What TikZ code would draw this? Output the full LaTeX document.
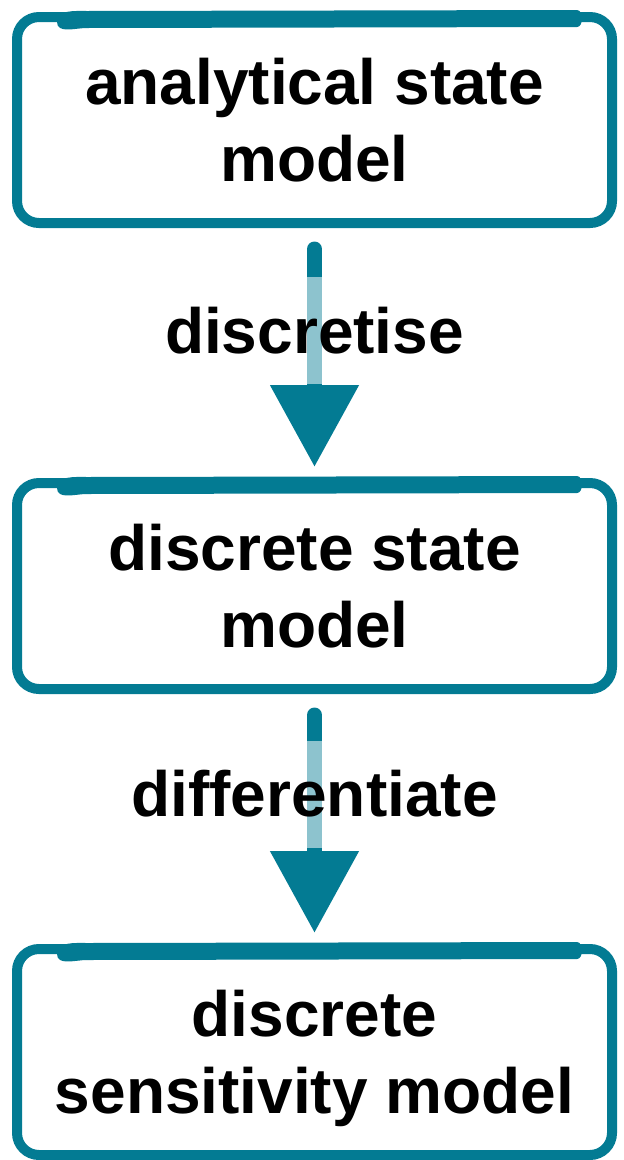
\documentclass[tikz,border=0pt]{standalone}
\usepackage{fontspec}
\setmainfont{Liberation Sans}
\usetikzlibrary{positioning,arrows.meta}
\definecolor{brushteal}{HTML}{037B93}
\begin{document}
\begin{tikzpicture}[x=1pt, y=-1pt,
    modelbox/.style={draw=brushteal, line width=10pt, rounded corners=22pt,
      minimum width=595pt, minimum height=206pt, align=center, text depth=0pt,
      font=\fontsize{64}{77}\selectfont\bfseries},
    flow/.style={draw=brushteal, line width=15pt, line cap=round,
      -{Triangle[length=82pt, width=85pt]}, shorten <=21pt, shorten >=11pt},
    steplabel/.style={fill=white, fill opacity=0.55, text opacity=1,
      minimum height=107pt, inner xsep=4pt,
      font=\fontsize{64}{77}\selectfont\bfseries}]
  \useasboundingbox (0,0) rectangle (624,1160);
  % モデルの箱
  \node[modelbox] (analytic) at (314.5,120) {analytical state\\model};
  \node[modelbox, below=250pt of analytic] (discrete) {discrete state\\model};
  \node[modelbox, below=250pt of discrete] (sensitivity) {discrete\\sensitivity model};
  % 上辺の太い筆
  \foreach \b in {analytic,discrete,sensitivity}
    \fill[brushteal] ([shift={(-560pt,-10pt)}]\b.north east)
      to[out=90,in=180] ([shift={(-530pt,1pt)}]\b.north east)
      -- ([shift={(-40pt,2pt)}]\b.north east)
      to[out=0,in=0] ([shift={(-40pt,-15pt)}]\b.north east)
      -- ([shift={(-530pt,-16pt)}]\b.north east)
      to[out=180,in=-90] cycle;
  % 矢印
  \draw[flow] (analytic) -- (discrete)
    node[steplabel, pos=0.41] (discretise) {discretise};
  \draw[flow] (discrete) -- (sensitivity)
    node[steplabel, pos=0.40] (differentiate) {differentiate};
\end{tikzpicture}
\end{document}
